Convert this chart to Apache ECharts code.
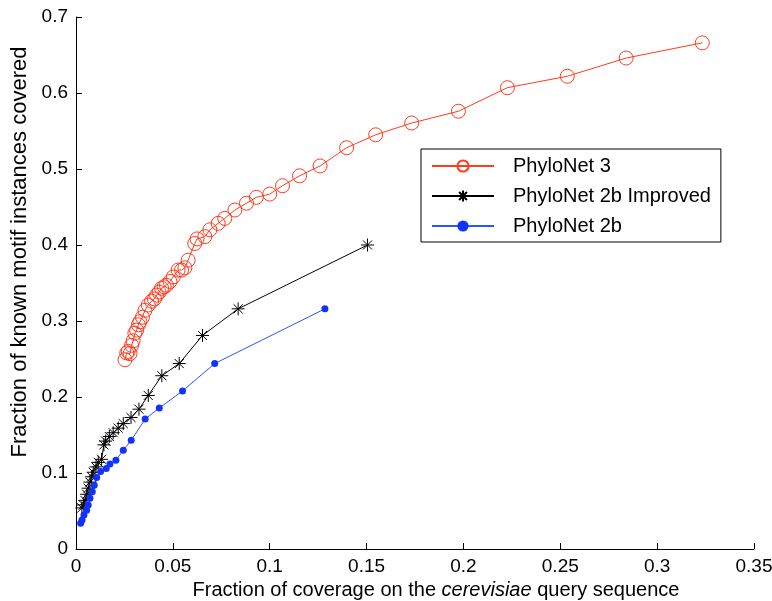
<!DOCTYPE html>
<html>
<head>
<meta charset="utf-8">
<script src="https://cdn.jsdelivr.net/npm/echarts@6/dist/echarts.min.js"></script>
<style>
html, body { margin: 0; padding: 0; background: #fff; }
#main { width: 772px; height: 601px; }
</style>
</head>
<body>
<div id="main"></div>
<script>
// series names
var seriesNames = ['PhyloNet 3', 'PhyloNet 2b Improved', 'PhyloNet 2b'];

// PhyloNet 3 (red circles)
var redX = [0.0253, 0.0262, 0.027, 0.0279, 0.0287, 0.0295, 0.0304, 0.0313, 0.0322, 0.033,
    0.0343, 0.0356, 0.0373, 0.039, 0.0405, 0.0416, 0.0429, 0.0442, 0.0455, 0.0467,
    0.0485, 0.0502, 0.0527, 0.0545, 0.0562, 0.0579, 0.0613, 0.0625, 0.0665, 0.0691,
    0.0734, 0.0768, 0.082, 0.088, 0.0931, 0.1, 0.1066, 0.1154, 0.126, 0.1397,
    0.1547, 0.1733, 0.1974, 0.2227, 0.2536, 0.284, 0.3233];
var redY = [0.249, 0.258, 0.26, 0.257, 0.268, 0.274, 0.284, 0.288, 0.295, 0.299,
    0.305, 0.314, 0.321, 0.326, 0.329, 0.334, 0.338, 0.343, 0.345, 0.347,
    0.352, 0.358, 0.367, 0.367, 0.37, 0.38, 0.402, 0.408, 0.411, 0.42,
    0.4285, 0.435, 0.446, 0.455, 0.4627, 0.467, 0.478, 0.491, 0.504, 0.528,
    0.545, 0.5605, 0.576, 0.607, 0.622, 0.646, 0.666];

// PhyloNet 2b Improved (black stars)
var blackX = [0.003, 0.0038, 0.0046, 0.0055, 0.0063, 0.0072, 0.0081, 0.0089, 0.0103, 0.0115,
    0.0132, 0.0144, 0.0153, 0.0172, 0.0192, 0.0218, 0.0244, 0.0284, 0.0325, 0.0373,
    0.0443, 0.0533, 0.0653, 0.0837, 0.1505];
var blackY = [0.054, 0.058, 0.064, 0.072, 0.080, 0.088, 0.095, 0.101, 0.108, 0.114,
    0.118, 0.137, 0.142, 0.148, 0.153, 0.159, 0.165, 0.173, 0.184, 0.202,
    0.228, 0.244, 0.281, 0.316, 0.400];

// PhyloNet 2b (blue dots)
var blueX = [0.0024, 0.0031, 0.0041, 0.0055, 0.0063, 0.0072, 0.0084, 0.0094, 0.0107, 0.0127,
    0.0156, 0.0175, 0.0206, 0.0244, 0.0285, 0.0357, 0.043, 0.055, 0.0716, 0.1285];
var blueY = [0.034, 0.038, 0.0447, 0.051, 0.058, 0.0667, 0.0754, 0.084, 0.094, 0.102,
    0.106, 0.112, 0.1167, 0.130, 0.143, 0.171, 0.1855, 0.208, 0.244, 0.316];

function pairs(xs, ys)
{
    return xs.map(function(x, i) { return [x, ys[i]]; });
}

var font = 'Liberation Sans, Arial, Helvetica, sans-serif';
var star = 'path://M5 0 L5 10 M0 5 L10 5 M1.5 1.5 L8.5 8.5 M8.5 1.5 L1.5 8.5';

var option = {
    backgroundColor: '#fff',
    animation: false,
    textStyle: { fontFamily: font, color: '#000' },
    grid: { left: 76, right: 18, top: 17, bottom: 52, containLabel: false, outerBoundsMode: 'none' },
    legend: {
        left: 421,
        top: 149,
        orient: 'vertical',
        data: seriesNames,
        itemWidth: 62,
        itemHeight: 14,
        itemGap: 10,
        padding: [7, 10, 6, 10],
        borderColor: '#000',
        borderWidth: 1,
        backgroundColor: '#fff',
        textStyle: { fontSize: 20, color: '#000', fontFamily: font, padding: [0, 0, 0, 14] }
    },
    xAxis: {
        type: 'value',
        min: 0,
        max: 0.35,
        interval: 0.05,
        name: 'Fraction of coverage on the {i|cerevisiae} query sequence',
        nameLocation: 'middle',
        nameGap: 31,
        nameTextStyle: {
            fontSize: 20, color: '#000', fontFamily: font, padding: [0, 0, 0, 42],
            rich: { i: { fontSize: 20, fontStyle: 'italic', color: '#000', fontFamily: font } }
        },
        axisLine: { lineStyle: { color: '#000', width: 1 } },
        axisTick: { inside: true, length: 6, lineStyle: { color: '#000' } },
        axisLabel: { fontSize: 19, color: '#000', margin: 8, fontFamily: font },
        splitLine: { show: false }
    },
    yAxis: {
        type: 'value',
        min: 0,
        max: 0.7,
        interval: 0.1,
        name: 'Fraction of known motif instances covered',
        nameLocation: 'middle',
        nameGap: 42,
        nameTextStyle: { fontSize: 22, color: '#000', fontFamily: font, padding: [0, 0, 0, 62] },
        axisLine: { show: true, lineStyle: { color: '#000', width: 1 } },
        axisTick: { show: true, inside: true, length: 6, lineStyle: { color: '#000' } },
        axisLabel: { fontSize: 19, color: '#000', margin: 8, fontFamily: font },
        splitLine: { show: false }
    },
    series: [
        {
            name: seriesNames[0],
            type: 'line',
            data: pairs(redX, redY),
            symbol: 'circle',
            symbolSize: 14,
            lineStyle: { color: '#ff3b1e', width: 1 },
            itemStyle: { color: 'rgba(255,255,255,0)', borderColor: '#ff3b1e', borderWidth: 1 }
        },
        {
            name: seriesNames[1],
            type: 'line',
            data: pairs(blackX, blackY),
            symbol: star,
            symbolSize: 13,
            lineStyle: { color: '#000', width: 1 },
            itemStyle: { color: 'none', borderColor: '#000', borderWidth: 1 }
        },
        {
            name: seriesNames[2],
            type: 'line',
            data: pairs(blueX, blueY),
            symbol: 'circle',
            symbolSize: 7,
            lineStyle: { color: '#2a55ff', width: 1 },
            itemStyle: { color: '#1133ff' }
        }
    ]
};

var myChart = echarts.init(document.getElementById('main'));
myChart.setOption(option);
</script>
</body>
</html>
